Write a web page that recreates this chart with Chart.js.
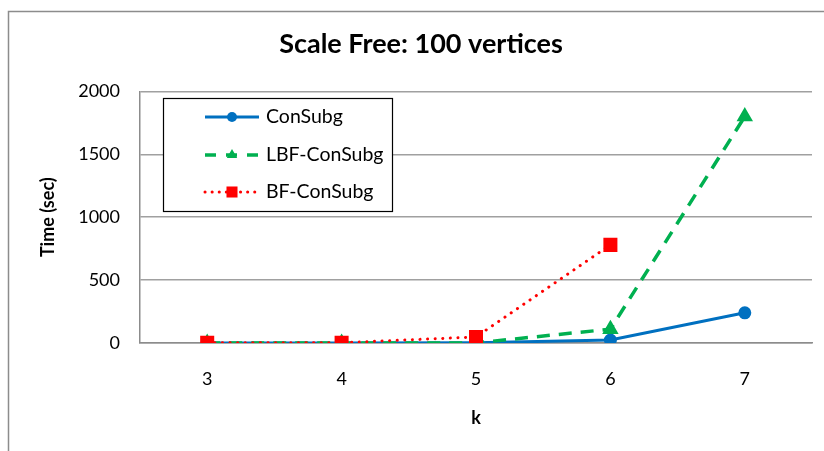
<!DOCTYPE html>
<html>
<head>
<meta charset="utf-8">
<script src="https://cdn.jsdelivr.net/npm/chart.js@4/dist/chart.umd.min.js"></script>
<style>
  html, body { margin: 0; padding: 0; background: #fff; }
  #wrap { width: 824px; height: 451px; }
</style>
</head>
<body>
<div id="wrap"><canvas id="timeChart" width="824" height="451"></canvas></div>
<script>
// k values on the x axis
const kValues = ["3", "4", "5", "6", "7"];

// running time in seconds for each algorithm
const conSubg = [0, 0.5, 2, 24, 240];
const lbfConSubg = [0, 0.5, 1, 110, 1800];
const bfConSubg = [1, 2, 48, 780, null];

const yTicks = [0, 500, 1000, 1500, 2000];

const FONT = "Lato, 'Liberation Sans', sans-serif";

// outer frame around the whole chart
const framePlugin = {
  id: "frame",
  beforeDraw(chart) {
    const ctx = chart.ctx;
    ctx.save();
    ctx.strokeStyle = "#8c8c8c";
    ctx.lineWidth = 1.5;
    ctx.strokeRect(8.5, 11.5, 1000, 1000);
    ctx.restore();
  },
};

// boxed legend sitting inside the plot area
const boxLegend = {
  id: "boxLegend",
  afterDraw(chart) {
    const ctx = chart.ctx;
    const x0 = 163, y0 = 98, w = 229, h = 113;
    ctx.save();
    ctx.fillStyle = "#fff";
    ctx.fillRect(x0, y0, w, h);
    ctx.strokeStyle = "#000";
    ctx.lineWidth = 1.2;
    ctx.strokeRect(x0 + 0.5, y0 + 0.5, w, h);

    const rows = [117, 155, 192];
    chart.data.datasets.forEach((ds, i) => {
      const y = rows[i];
      ctx.save();
      ctx.strokeStyle = ds.borderColor;
      ctx.lineWidth = ds.borderWidth;
      ctx.lineCap = ds.borderCapStyle || "butt";
      ctx.setLineDash(ds.legendDash || []);
      ctx.beginPath();
      ctx.moveTo(205, y);
      ctx.lineTo(259, y);
      ctx.stroke();
      ctx.restore();

      // marker
      const mx = 232, r = ds.pointRadius;
      ctx.fillStyle = ds.pointBackgroundColor;
      ctx.beginPath();
      if (ds.pointStyle === "circle") {
        ctx.arc(mx, y, r, 0, Math.PI * 2);
      } else if (ds.pointStyle === "triangle") {
        ctx.moveTo(mx, y - r);
        ctx.lineTo(mx + r * 0.866, y + r * 0.5);
        ctx.lineTo(mx - r * 0.866, y + r * 0.5);
        ctx.closePath();
      } else {
        const s = r * Math.SQRT1_2;
        ctx.rect(mx - s, y - s, 2 * s, 2 * s);
      }
      ctx.fill();

      ctx.fillStyle = "#000";
      ctx.font = "19.5px " + FONT;
      ctx.textBaseline = "middle";
      ctx.fillText(ds.label, 266, y);
    });
    ctx.restore();
  },
};

const ctx = document.getElementById("timeChart").getContext("2d");
new Chart(ctx, {
  type: "line",
  data: {
    labels: kValues,
    datasets: [
      {
        label: "ConSubg",
        data: conSubg,
        borderColor: "#0070C0",
        backgroundColor: "#0070C0",
        pointBackgroundColor: "#0070C0",
        pointBorderColor: "#0070C0",
        borderWidth: 3,
        pointStyle: "circle",
        pointRadius: 5,
        order: 3,
      },
      {
        label: "LBF-ConSubg",
        data: lbfConSubg,
        borderColor: "#00B050",
        backgroundColor: "#00B050",
        pointBackgroundColor: "#00B050",
        pointBorderColor: "#00B050",
        borderWidth: 3.5,
        borderDash: [13, 9],
        legendDash: [11, 10],
        pointStyle: "triangle",
        pointRadius: 6,
        order: 2,
      },
      {
        label: "BF-ConSubg",
        data: bfConSubg,
        borderColor: "#FF0000",
        backgroundColor: "#FF0000",
        pointBackgroundColor: "#FF0000",
        pointBorderColor: "#FF0000",
        borderWidth: 3,
        borderDash: [0.1, 7.5],
        legendDash: [0.1, 7],
        borderCapStyle: "round",
        pointStyle: "rect",
        pointRadius: 7.8,
        order: 1,
      },
    ],
  },
  options: {
    responsive: false,
    animation: false,
    layout: { padding: { left: 30, right: 12, top: 0, bottom: 0 } },
    elements: { line: { tension: 0, fill: false }, point: { borderWidth: 0 } },
    plugins: {
      legend: { display: false },
      tooltip: { enabled: false },
      title: {
        display: true,
        text: "Scale Free: 100 vertices",
        color: "#000",
        font: { family: FONT, size: 27, weight: "bold" },
        padding: { top: 28, bottom: 31 },
      },
    },
    scales: {
      x: {
        offset: true,
        grid: { display: false, drawTicks: false, offset: true },
        border: { display: true, color: "#8c8c8c", width: 1.5 },
        ticks: { color: "#000", font: { family: FONT, size: 18 }, padding: 25 },
        title: {
          display: true,
          text: "k",
          color: "#000",
          font: { family: FONT, size: 18, weight: "bold" },
          padding: { top: 0, bottom: 22 },
        },
        afterFit(scale) {
          scale.height = 108;
        },
      },
      y: {
        min: 0,
        max: 2000,
        afterBuildTicks(scale) {
          scale.ticks = yTicks.map((v) => ({ value: v }));
        },
        grid: { color: "#a0a0a0", lineWidth: 1.5, drawTicks: false },
        border: { display: true, color: "#8c8c8c", width: 1.5 },
        ticks: {
          color: "#000",
          font: { family: FONT, size: 18 },
          padding: 20,
          callback: (v) => String(v),
        },
        title: {
          display: true,
          text: "Time (sec)",
          color: "#000",
          font: { family: FONT, size: 18, weight: "bold" },
          padding: { top: 7, bottom: 0 },
        },
        afterFit(scale) {
          scale.width = 110;
        },
      },
    },
  },
  plugins: [framePlugin, boxLegend],
});
</script>
</body>
</html>
